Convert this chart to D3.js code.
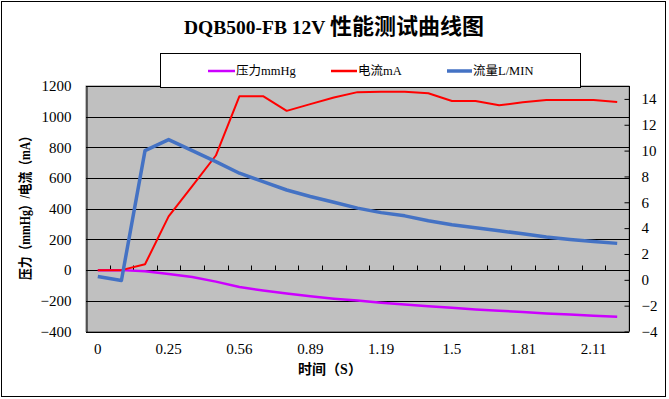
<!DOCTYPE html>
<html><head><meta charset="utf-8">
<script src="https://cdn.jsdelivr.net/npm/d3@7"></script>
<style>
body{margin:0;background:#fff;}
text{font-family:"Liberation Serif","Noto Sans CJK SC",serif;}
</style></head>
<body>
<svg id="c" width="669" height="399"></svg>
<script>
const categories = ["0","0.08","0.17","0.25","0.35","0.46","0.56","0.67","0.78","0.89","0.99","1.09","1.19","1.29","1.4","1.5","1.6","1.71","1.81","1.91","2.01","2.11","2.21"];
const pressure = [0,0,-8,-25,-45,-75,-110,-133,-153,-171,-186,-198,-212,-224,-236,-246,-256,-265,-273,-282,-290,-297,-304];
const current = [0,0,38,350,548,747,1134,1134,1038,1082,1125,1160,1163,1163,1153,1102,1102,1074,1094,1108,1108,1108,1095];
const flow = [0.25,-0.05,10.0,10.85,10.0,9.15,8.25,7.6,6.95,6.45,6.0,5.55,5.2,4.95,4.57,4.26,4.03,3.8,3.56,3.31,3.12,2.96,2.82];
const leftTicks = [-400,-200,0,200,400,600,800,1000,1200];
const rightTicks = [-4,-2,0,2,4,6,8,10,12,14];
const shownLabels = ["0","0.25","0.56","0.89","1.19","1.5","1.81","2.11"];
const seriesNames = ["压力mmHg","电流mA","流量L/MIN"];
const titleLatin = "DQB500-FB 12V ";
const titleCJK = "性能测试曲线图";
const yTitle = "压力（mmHg）/电流（mA）";
const xTitle = "时间（S）";

const svg = d3.select("#c");
const L = 86, R = 629, T = 86, B = 331.5;
const x = d3.scaleBand().domain(categories).range([L, R]);
const yL = d3.scaleLinear().domain([-400, 1200]).range([B, T]);
const yR = d3.scaleLinear().domain([-4, 15]).range([B, T]);
const cx = c => x(c) + x.bandwidth() / 2;

svg.append("rect").attr("x",0).attr("y",0).attr("width",669).attr("height",399).attr("fill","#fff");
svg.append("rect").attr("x",1.5).attr("y",1.5).attr("width",664).attr("height",395)
  .attr("fill","none").attr("stroke","#000").attr("stroke-width",1);

// title
const tt = svg.append("text").attr("x",334).attr("y",34).attr("text-anchor","middle").attr("font-weight","bold");
tt.append("tspan").attr("font-size","19.5px").text(titleLatin);
tt.append("tspan").attr("font-size","22px").attr("font-family","Noto Sans CJK SC").text(titleCJK);

// plot area
svg.append("rect").attr("x",L).attr("y",T).attr("width",R-L).attr("height",B-T)
  .attr("fill","#C0C0C0").attr("stroke","#808080").attr("stroke-width",1);

// gridlines
svg.append("g").selectAll("line").data(leftTicks).join("line")
  .attr("x1",L).attr("x2",R).attr("y1",d=>Math.round(yL(d))+0.5).attr("y2",d=>Math.round(yL(d))+0.5)
  .attr("stroke","#000").attr("stroke-width",1);

// left axis
const gl = svg.append("g").attr("transform",`translate(${L+0.5},0)`)
  .call(d3.axisLeft(yL).tickValues(leftTicks).tickSize(0).tickPadding(15));
gl.select(".domain").attr("stroke","#000");
gl.selectAll("text").attr("font-size","15px").attr("fill","#000").attr("font-family","Liberation Serif")
  .text(d=>d<0?"\u2212"+Math.abs(d):d);

// right axis
const gr = svg.append("g").attr("transform",`translate(${R+0.5},0)`)
  .call(d3.axisRight(yR).tickValues(rightTicks).tickSize(-5).tickPadding(12).tickFormat(d3.format("d")));
gr.select(".domain").attr("stroke","#000").attr("d",`M0,${T}V${B}`);
gr.selectAll("line").attr("stroke","#000");
gr.selectAll("text").attr("font-size","15px").attr("fill","#000").attr("font-family","Liberation Serif")
  .text(d=>d<0?"\u2212"+Math.abs(d):d);

// x category ticks along zero line
const y0 = Math.round(yL(0))+0.5;
const bounds = categories.slice(1).map(c => x(c));
svg.append("g").selectAll("line").data(bounds).join("line")
  .attr("x1",d=>Math.round(d)+0.5).attr("x2",d=>Math.round(d)+0.5)
  .attr("y1",y0).attr("y2",y0-5).attr("stroke","#000");

// x labels (low position)
svg.append("g").selectAll("text").data(categories.filter(c=>shownLabels.includes(c))).join("text")
  .attr("x",d=>cx(d)).attr("y",349).attr("text-anchor","middle").attr("dominant-baseline","central")
  .attr("font-size","15px").text(d=>d);

// axis titles
svg.append("text").attr("transform","translate(25,205) rotate(-90)").attr("text-anchor","middle")
  .attr("dominant-baseline","central").attr("font-weight","bold").attr("font-size","14px")
  .attr("font-family","Noto Sans CJK SC").attr("textLength",150).attr("lengthAdjust","spacingAndGlyphs").text(yTitle);
svg.append("text").attr("x",330).attr("y",369).attr("text-anchor","middle").attr("dominant-baseline","central")
  .attr("font-weight","bold").attr("font-size","14px").attr("font-family","Noto Sans CJK SC").text(xTitle);

// lines
const lineL = d3.line().x((d,i)=>cx(categories[i])).y(d=>yL(d));
const lineR = d3.line().x((d,i)=>cx(categories[i])).y(d=>yR(d));
svg.append("path").datum(pressure).attr("d",lineL).attr("fill","none").attr("stroke","#CC00FF").attr("stroke-width",2.5).attr("stroke-linejoin","round");
svg.append("path").datum(current).attr("d",lineL).attr("fill","none").attr("stroke","#FF0000").attr("stroke-width",2).attr("stroke-linejoin","round");
svg.append("path").datum(flow).attr("d",lineR).attr("fill","none").attr("stroke","#4472C4").attr("stroke-width",3.5).attr("stroke-linejoin","round");

// legend
svg.append("rect").attr("x",160.5).attr("y",53.5).attr("width",420).attr("height",34)
  .attr("fill","#fff").attr("stroke","#000").attr("stroke-width",1);
const leg = [
  {name:seriesNames[0], color:"#CC00FF", w:2.5, x1:208, x2:235, tx:236},
  {name:seriesNames[1], color:"#FF0000", w:2.5, x1:331, x2:357, tx:358},
  {name:seriesNames[2], color:"#4472C4", w:3.5, x1:447, x2:472, tx:473}
];
const lg = svg.append("g").selectAll("g").data(leg).join("g");
lg.append("line").attr("x1",d=>d.x1).attr("x2",d=>d.x2).attr("y1",71).attr("y2",71)
  .attr("stroke",d=>d.color).attr("stroke-width",d=>d.w);
lg.append("text").attr("x",d=>d.tx).attr("y",71).attr("dominant-baseline","central")
  .attr("font-size","12.5px").text(d=>d.name);
</script>
</body></html>
